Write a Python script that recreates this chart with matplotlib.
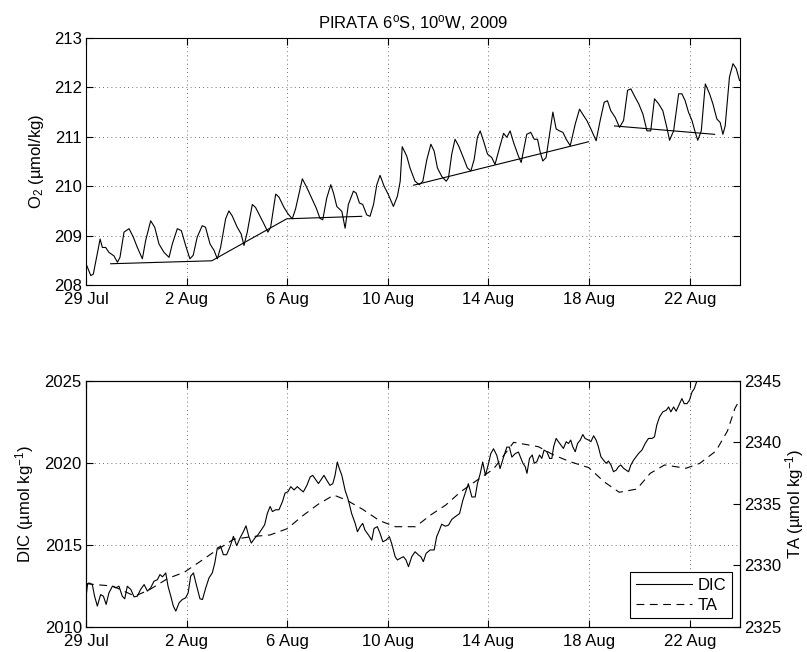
import numpy as np
import matplotlib.pyplot as plt

plt.rcParams['font.family'] = ['Liberation Sans', 'DejaVu Sans']
plt.rcParams['mathtext.fontset'] = 'custom'
plt.rcParams['mathtext.rm'] = 'Liberation Sans'
plt.rcParams['mathtext.it'] = 'Liberation Sans:italic'
plt.rcParams['font.size'] = 12

# days since 29 Jul 2009
tick_days = [0, 4, 8, 12, 16, 20, 24]
tick_labels = ['29 Jul', '2 Aug', '6 Aug', '10 Aug', '14 Aug', '18 Aug', '22 Aug']

# O2 (umol/kg)
o2_day = [0, 0.19, 0.29, 0.42, 0.56, 0.65, 0.78, 0.91, 1.11, 1.25, 1.35, 1.51, 1.71, 1.88,
          2.04, 2.24, 2.37, 2.57, 2.73, 2.9, 3.1, 3.3, 3.43, 3.63, 3.79, 3.96, 4.13, 4.26,
          4.42, 4.62, 4.75, 4.93, 5.09, 5.22, 5.35, 5.55, 5.68, 5.81, 6.01, 6.17, 6.28, 6.41,
          6.61, 6.74, 6.91, 7.07, 7.23, 7.34, 7.54, 7.67, 7.87, 8.03, 8.2, 8.33, 8.6,
          8.78, 8.97, 9.15, 9.3, 9.41, 9.57, 9.73, 9.84, 9.97, 10.17, 10.3, 10.43, 10.63,
          10.74, 10.87, 11.0, 11.16, 11.29, 11.43, 11.56, 11.69, 11.85, 12.02, 12.22, 12.38,
          12.49, 12.57, 12.75, 12.88, 13.08, 13.25, 13.39, 13.55, 13.71, 13.84, 13.97, 14.14,
          14.32, 14.41, 14.54, 14.67, 14.81, 15.0, 15.16, 15.3, 15.43, 15.56, 15.67, 15.8,
          15.96, 16.13, 16.26, 16.44, 16.6, 16.73, 16.86, 17.0, 17.19,
          17.3, 17.39, 17.52, 17.68, 17.82, 17.95, 18.06, 18.16, 18.29, 18.45, 18.56, 18.69,
          18.82, 18.96, 19.09, 19.25, 19.45, 19.62, 19.78, 19.91, 20.07, 20.28, 20.44, 20.6,
          20.73, 20.86, 21.04, 21.21, 21.37, 21.53, 21.66, 21.83, 21.97, 22.14, 22.3, 22.45,
          22.6, 22.76, 22.93, 23.09, 23.2, 23.36, 23.56, 23.69, 23.82, 23.95, 24.09, 24.22,
          24.32, 24.46, 24.62, 24.79, 24.92, 25.08, 25.21, 25.32, 25.41, 25.58, 25.72, 25.85,
          25.98]
o2_val = [208.43, 208.19, 208.22, 208.56, 208.93, 208.76, 208.76, 208.66, 208.59, 208.46,
          208.56, 209.07, 209.14, 208.97, 208.76, 208.53, 208.9, 209.3, 209.17, 208.83, 208.66,
          208.56, 208.83, 209.14, 209.1, 208.8, 208.53, 208.6, 208.97, 209.2, 209.17, 208.83,
          208.7, 208.53, 208.76, 209.34, 209.5, 209.4, 209.17, 209.03, 208.8, 209.07, 209.63,
          209.57, 209.4, 209.24, 209.07, 209.17, 209.84, 209.78, 209.57, 209.44, 209.34,
          209.54, 210.15,
          209.97, 209.76, 209.56, 209.35, 209.32, 209.76, 210.03, 209.86, 209.59, 209.49,
          209.15, 209.63, 209.9, 209.86, 209.66, 209.63, 209.42, 209.39, 209.63, 210.03,
          210.22, 210.0, 209.83, 209.59, 209.8, 210.1, 210.8, 210.61, 210.37, 210.1, 210.03,
          210.1, 210.54, 210.85, 210.71, 210.37, 210.2, 210.1, 210.17, 210.65, 210.95, 210.82,
          210.58, 210.37, 210.31, 210.54, 210.99, 211.12, 210.92, 210.65, 210.58, 210.44,
          210.78, 211.07, 210.99, 211.12, 210.88, 210.61,
          210.48, 210.71, 211.05, 211.09, 210.95, 210.95, 210.68, 210.51, 210.58, 211.12,
          211.5, 211.16, 211.12, 211.09, 210.95, 210.82, 211.26, 211.56, 211.43, 211.33,
          211.16, 210.92, 211.33, 211.7, 211.73, 211.53, 211.39, 211.19, 211.33, 211.94,
          211.97, 211.8, 211.67, 211.46, 211.12, 211.12, 211.77, 211.67, 211.53, 211.19,
          210.93, 211.12, 211.87, 211.87, 211.73, 211.5, 211.33, 211.09, 210.93, 211.12,
          212.07, 211.87, 211.67, 211.36, 211.29, 211.05, 211.22, 212.21, 212.48, 212.38,
          212.14]

# O2 trend segments
trend1_day = [0.98, 5.0, 7.98, 10.96]
trend1_val = [208.43, 208.49, 209.34, 209.39]
trend2_day = [13.02, 19.98]
trend2_val = [210.02, 210.9]
trend3_day = [21.01, 24.99]
trend3_val = [211.22, 211.05]

# DIC (umol/kg)
dic_day = [0, 0.06, 0.12, 0.25, 0.34, 0.45, 0.58, 0.69, 0.8, 0.91, 1.05, 1.18, 1.31, 1.44,
           1.54, 1.64, 1.78, 1.91, 2.04, 2.17, 2.31, 2.44, 2.57, 2.7, 2.84, 2.94, 3.04, 3.17,
           3.26, 3.37, 3.47, 3.57, 3.7, 3.83, 3.96, 4.06, 4.16, 4.27, 4.4, 4.53, 4.63, 4.76,
           4.89, 5.02, 5.12, 5.22, 5.35, 5.46, 5.59, 5.73, 5.86, 5.99, 6.12, 6.26, 6.36, 6.47,
           6.57, 6.71, 6.84, 6.97, 7.1, 7.21, 7.32, 7.41, 7.54, 7.67, 7.81, 7.91, 8.03, 8.14,
           8.27, 8.4, 8.54,
           8.64, 8.78, 8.91, 9.01, 9.15, 9.24, 9.37, 9.46, 9.57, 9.7, 9.81, 9.9, 9.99, 10.07,
           10.17, 10.3, 10.43, 10.56, 10.7, 10.79, 10.9, 11.0, 11.09, 11.23, 11.36, 11.45,
           11.58, 11.69, 11.8, 11.93, 12.06, 12.15, 12.29, 12.38, 12.49, 12.62, 12.72, 12.82,
           12.95, 13.08, 13.22, 13.31, 13.41, 13.52, 13.68, 13.84, 13.94, 14.05, 14.14, 14.28,
           14.41, 14.54, 14.67, 14.85, 14.98, 15.07, 15.2, 15.34, 15.47, 15.56, 15.67, 15.77,
           15.88, 16.0, 16.09, 16.2, 16.33, 16.46, 16.6, 16.73, 16.83, 16.93, 17.06, 17.19,
           17.37, 17.46, 17.53, 17.63, 17.74, 17.82, 17.92, 18.03, 18.12, 18.21, 18.32, 18.43,
           18.52, 18.59, 18.69, 18.78, 18.88, 18.98, 19.09, 19.18, 19.27, 19.35, 19.45, 19.54,
           19.65, 19.75, 19.84, 19.98, 20.07, 20.18, 20.28, 20.37, 20.47, 20.57, 20.68, 20.77,
           20.87, 20.97, 21.08, 21.17, 21.26, 21.37, 21.47, 21.57, 21.66, 21.77, 21.87, 21.97,
           22.1, 22.23, 22.36, 22.5, 22.6, 22.69, 22.8, 22.93, 23.07, 23.16, 23.25, 23.36,
           23.46, 23.6, 23.69, 23.78, 23.89, 23.99, 24.09, 24.18, 24.28, 24.35, 24.6]
dic_val = [2011.8, 2012.6, 2012.67, 2012.57, 2011.86, 2011.26, 2011.96, 2011.86, 2011.36,
           2012.06, 2012.47, 2012.37, 2012.47, 2011.86, 2011.7, 2012.47, 2012.27, 2011.82,
           2011.86, 2012.27, 2012.57, 2012.17, 2012.37, 2012.77, 2012.87, 2013.18, 2013.04,
           2013.28, 2012.47, 2011.86, 2011.26, 2010.95, 2011.46, 2011.66, 2011.76, 2012.06,
           2013.08, 2013.28, 2012.47, 2011.7, 2011.66, 2012.37, 2012.98, 2013.28, 2013.89,
           2014.8, 2014.9, 2014.39, 2014.39, 2014.9, 2015.51, 2014.94, 2015.4, 2015.81,
           2016.15, 2015.51, 2015.1, 2015.4, 2015.61, 2015.91, 2016.21, 2016.92, 2017.33,
           2017.02, 2017.13, 2017.13, 2017.63, 2018.14, 2018.24, 2018.54, 2018.34, 2018.54,
           2018.34,
           2018.22, 2018.62, 2019.13, 2019.23, 2018.93, 2018.73, 2019.03, 2019.23, 2018.93,
           2018.62, 2018.72, 2019.23, 2020.04, 2019.64, 2019.23, 2018.32, 2017.71, 2016.9,
           2016.3, 2015.79, 2016.1, 2016.3, 2015.89, 2015.59, 2015.28, 2015.99, 2016.1,
           2015.69, 2015.18, 2015.28, 2015.49, 2015.08, 2014.27, 2014.07, 2014.17, 2014.27,
           2014.07, 2013.66, 2014.27, 2014.57, 2014.37, 2014.27, 2013.97, 2014.47, 2014.68,
           2014.68, 2015.49, 2015.89, 2016.25, 2016.13, 2016.19, 2016.54, 2016.7, 2016.9,
           2017.71, 2018.12, 2018.72, 2017.91, 2017.91, 2018.72, 2019.33, 2020.04, 2019.23,
           2019.94, 2020.55, 2020.85, 2020.45, 2019.64, 2020.34, 2020.95, 2020.95, 2020.34,
           2020.55, 2020.65,
           2019.96, 2019.76, 2019.35, 2020.26, 2020.47, 2019.96, 2020.06, 2020.47, 2020.26,
           2020.77, 2020.67, 2020.26, 2020.26, 2020.97, 2021.48, 2021.28, 2021.07, 2020.87,
           2021.28, 2021.17, 2021.38, 2020.97, 2020.67, 2021.17, 2021.38, 2021.72, 2021.48,
           2021.38, 2021.28, 2021.64, 2021.38, 2020.97, 2020.36, 2020.16, 2019.96, 2020.1,
           2019.86, 2019.45, 2019.55, 2019.76, 2019.86, 2019.66, 2019.55, 2019.45, 2019.86,
           2020.16, 2020.36, 2020.57, 2020.77, 2021.17, 2021.48, 2021.48, 2021.58, 2022.29,
           2022.79, 2023.1, 2023.2, 2023.4, 2023.1, 2023.4, 2023.14, 2023.6, 2023.91, 2023.6,
           2023.6, 2023.81, 2024.31, 2024.51, 2024.96, 2025.1, 2025.6]

# TA (umol/kg)
ta_day = [0, 0.5, 1.05, 1.94, 2.5, 3.26, 3.9, 4.53, 5.2, 5.86, 6.57, 7.32, 8.0, 8.6, 9.24,
          9.85, 10.35, 11.0, 11.67, 12.3, 13.1, 13.7, 14.3, 14.9, 15.56, 16.2, 17.0, 17.99,
          18.59, 19.25, 19.99, 20.59, 21.2, 21.9, 22.43, 23.0, 23.85, 24.4, 25.04, 25.5,
          25.8, 26.0]
ta_val = [2328.5, 2328.4, 2328.31, 2327.49, 2327.98, 2328.93, 2329.42, 2330.29, 2331.24,
          2332.1, 2332.32, 2332.46, 2332.97, 2334.0, 2334.97, 2335.7, 2335.3, 2334.54,
          2333.62, 2333.13, 2333.13, 2334.08, 2334.89, 2335.98, 2336.93, 2337.82, 2339.99,
          2339.63, 2338.96, 2338.41, 2337.93, 2336.79, 2335.93, 2336.19, 2337.47, 2338.15,
          2337.88, 2338.28, 2339.28, 2340.91, 2342.76, 2343.5]

grid_kw = dict(color='0.25', linestyle=(0, (1, 4)), linewidth=0.6)
lw = 0.8

fig = plt.figure(figsize=(8.07, 6.52), dpi=100)

# Top panel: O2
ax1 = fig.add_axes([0.1066, 0.5629, 0.8104, 0.3788])
ax1.plot(o2_day, o2_val, color='k', linewidth=lw)
ax1.plot(trend1_day, trend1_val, color='k', linewidth=lw)
ax1.plot(trend2_day, trend2_val, color='k', linewidth=lw)
ax1.plot(trend3_day, trend3_val, color='k', linewidth=lw)
ax1.set_xlim(0, 26)
ax1.set_ylim(208, 213)
ax1.set_yticks([208, 209, 210, 211, 212, 213])
ax1.set_xticks(tick_days)
ax1.set_xticklabels(tick_labels)
ax1.grid(True, **grid_kw)
ax1.tick_params(direction='in', top=True, right=True, length=5)
ax1.tick_params(axis='x', pad=5)
ax1.tick_params(axis='y', pad=3)
ax1.set_ylabel('O$_2$ (µmol/kg)', labelpad=6)
ax1.set_title(r'PIRATA 6$^{\rm o}$S, 10$^{\rm o}$W, 2009', fontsize=12, pad=7)

# Bottom panel: DIC and TA
ax2 = fig.add_axes([0.1066, 0.0388, 0.8104, 0.3773])
l_dic, = ax2.plot(dic_day, dic_val, color='k', linewidth=lw, label='DIC')
ax2.set_xlim(0, 26)
ax2.set_ylim(2010, 2025)
ax2.set_yticks([2010, 2015, 2020, 2025])
ax2.set_xticks(tick_days)
ax2.set_xticklabels(tick_labels)
ax2.grid(True, **grid_kw)
ax2.tick_params(direction='in', top=True, length=5)
ax2.tick_params(axis='x', pad=5)
ax2.tick_params(axis='y', pad=3)
ax2.set_ylabel('DIC (µmol kg$^{-1}$)', labelpad=6)

ax3 = ax2.twinx()
l_ta, = ax3.plot(ta_day, ta_val, color='k', linewidth=lw, dashes=(7, 5), label='TA')
ax3.set_ylim(2325, 2345)
ax3.set_yticks([2325, 2330, 2335, 2340, 2345])
ax3.tick_params(direction='in', length=5, pad=3)
ax3.set_ylabel('TA (µmol kg$^{-1}$)', labelpad=1)

leg = ax3.legend(handles=[l_dic, l_ta], loc='lower right', fancybox=False,
                 edgecolor='k', framealpha=1, borderaxespad=0.5, handlelength=3.4,
                 handletextpad=0.3, borderpad=0.35, labelspacing=0.3)
leg.get_frame().set_linewidth(0.8)

for ax in (ax1, ax2, ax3):
    for s in ax.spines.values():
        s.set_linewidth(0.8)

fig.savefig('out.png', dpi=100)
